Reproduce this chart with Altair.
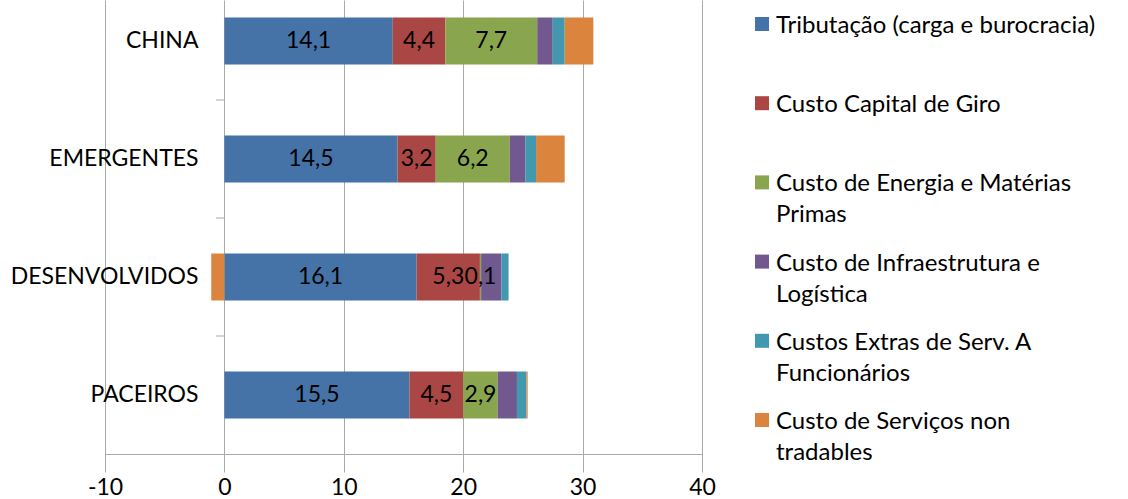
import altair as alt
import pandas as pd

# Categories (top to bottom) and cost components (stack order, left to right)
categories = ["CHINA", "EMERGENTES", "DESENVOLVIDOS", "PACEIROS"]
series = [
    "Tributação (carga e burocracia)",
    "Custo Capital de Giro",
    "Custo de Energia e Matérias Primas",
    "Custo de Infraestrutura e Logística",
    "Custos Extras de Serv. A Funcionários",
    "Custo de Serviços non tradables",
]
legend_text = [
    "Tributação (carga e burocracia)",
    "Custo Capital de Giro",
    "Custo de Energia e Matérias\nPrimas",
    "Custo de Infraestrutura e\nLogística",
    "Custos Extras de Serv. A\nFuncionários",
    "Custo de Serviços non\ntradables",
]
colors = ["#4572A7", "#AA4643", "#89A54E", "#71588F", "#4198AF", "#DB843D"]

# Values per category, one list per component
tributacao = [14.1, 14.5, 16.1, 15.5]
capital_giro = [4.4, 3.2, 5.3, 4.5]
energia = [7.7, 6.2, 0.1, 2.9]
infraestrutura = [1.3, 1.3, 1.7, 1.6]
extras_funcionarios = [1.0, 0.9, 0.6, 0.8]
non_tradables = [2.4, 2.4, -1.1, 0.1]

x_ticks = [-10, 0, 10, 20, 30, 40]
labeled_components = 3  # only the first three segments carry value labels

FONT = "Lato"
GRAY = "#A9A9A9"
FS = 23
FS_LEG = 24

columns = [tributacao, capital_giro, energia, infraestrutura,
           extras_funcionarios, non_tradables]

rows = []
for ci, cat in enumerate(categories):
    pos_base = 0.0
    for si, name in enumerate(series):
        v = columns[si][ci]
        mid = pos_base + v / 2 if v >= 0 else v / 2
        rows.append({
            "cat": cat, "serie": name, "idx": si, "value": v, "mid": mid,
            "label": f"{v:.1f}".replace(".", ","),
        })
        if v >= 0:
            pos_base += v
df = pd.DataFrame(rows)
labels_df = df[df["idx"] < labeled_components]
# small category-separator ticks left of the zero line
ticks_df = pd.DataFrame({"cat": categories[1:], "x0": -0.7, "x1": 0.0})

x_scale = alt.Scale(domain=[-10, 40], nice=False, zero=False)
y_scale = alt.Scale(domain=categories, range=[-18, 454], paddingInner=0, paddingOuter=0)
color_scale = alt.Scale(domain=series, range=colors)

bars = alt.Chart(df).mark_bar(size=47).encode(
    x=alt.X("value:Q", stack="zero", scale=x_scale,
            axis=alt.Axis(values=x_ticks, grid=True, gridColor=GRAY, gridWidth=1,
                          domainColor=GRAY, tickColor=GRAY, tickSize=8,
                          labelFontSize=FS, labelFont=FONT, labelColor="black",
                          labelExpr="'' + datum.value",
                          labelPadding=14, labelFlush=False, title=None)),
    y=alt.Y("cat:N", scale=y_scale, sort=categories,
            axis=alt.Axis(domain=False, ticks=False, grid=False, offset=-93,
                          labelPadding=0, labelFontSize=FS, labelFont=FONT,
                          labelLimit=400, labelColor="black", title=None)),
    color=alt.Color("serie:N", scale=color_scale, legend=None),
    order=alt.Order("idx:Q"),
)

texts = alt.Chart(labels_df).mark_text(
    fontSize=FS, font=FONT, color="black", baseline="middle", align="center"
).encode(
    x=alt.X("mid:Q", scale=x_scale),
    y=alt.Y("cat:N", scale=y_scale, sort=categories, axis=None),
    text="label:N",
)

cat_ticks = alt.Chart(ticks_df).mark_rule(color=GRAY, strokeWidth=1).encode(
    x=alt.X("x0:Q", scale=x_scale),
    x2="x1:Q",
    y=alt.Y("cat:N", scale=y_scale, sort=categories, bandPosition=0, axis=None),
)

# Legend drawn beside the plot: one square and one (wrapped) label per component
legend_df = pd.DataFrame({"serie": series, "text": legend_text, "idx": list(range(len(series)))})
leg_y = alt.Y("idx:O", scale=alt.Scale(type="point", range=[24, 420], padding=0), axis=None)
leg_marks = alt.Chart(legend_df).mark_square(size=196, opacity=1).encode(
    x=alt.value(657), y=leg_y,
    color=alt.Color("serie:N", scale=color_scale, legend=None),
)
leg_text = alt.Chart(legend_df).mark_text(
    fontSize=FS_LEG, font=FONT, color="black", align="left", baseline="alphabetic",
    dy=9, lineBreak="\n", lineHeight=31,
).encode(x=alt.value(671), y=leg_y, text="text:N")

chart = alt.layer(bars, cat_ticks, texts, leg_marks, leg_text).resolve_scale(
    y="independent"
).properties(
    width=597, height=454,
    autosize="none",
    padding={"left": 105, "top": 0, "right": 426, "bottom": 45},
    background="white",
).configure_view(strokeWidth=0)

chart.save("out.html", embed_options={"renderer": "svg", "actions": False})
